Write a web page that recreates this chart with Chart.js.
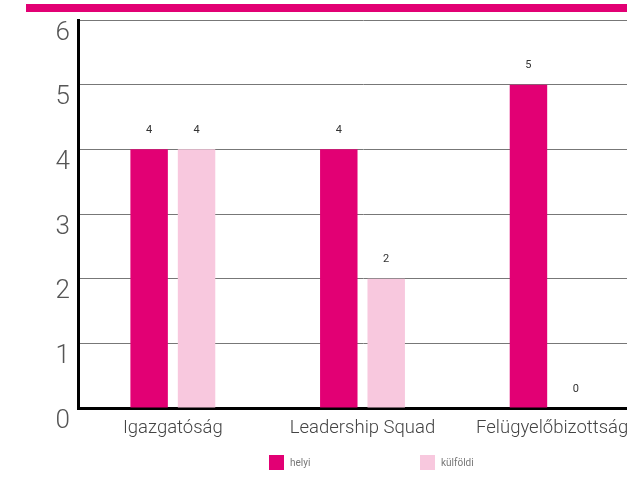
<!DOCTYPE html>
<html>
<head>
<meta charset="utf-8">
<script src="https://cdn.jsdelivr.net/npm/chart.js@4/dist/chart.umd.min.js"></script>
<style>
  html, body { margin: 0; padding: 0; width: 627px; height: 477px; overflow: hidden; background: #fff; }
  #topbar { position: absolute; left: 26px; top: 4px; width: 700px; height: 8px; background: #E20074; }
  #wrap { position: absolute; left: 0; top: 0; width: 660px; height: 477px; }
  #legend { position: absolute; top: 455px; left: 0; width: 627px; height: 16px; font-family: Roboto, sans-serif; font-size: 10px; color: #777; }
  .li { position: absolute; top: 0; height: 15px; display: flex; align-items: center; }
  .li span.box { display: inline-block; width: 15px; height: 15px; margin-right: 6px; }
</style>
</head>
<body>
<div id="topbar"></div>
<div id="wrap"><canvas id="c" width="660" height="477" style="width:660px;height:477px"></canvas></div>
<div id="legend"></div>
<script>
const categories = ["Igazgatóság", "Leadership Squad", "Felügyelőbizottság"];
const seriesNames = ["helyi", "külföldi"];
const helyiValues = [4, 4, 5];
const kulfoldiValues = [4, 2, 0];
const yTicks = [0, 1, 2, 3, 4, 5, 6];

const MAGENTA = "#E20074";
const PINK = "#F8C8DE";

const valueLabels = {
  id: "valueLabels",
  afterDatasetsDraw(chart) {
    const ctx = chart.ctx;
    ctx.save();
    ctx.font = "11px Roboto, sans-serif";
    ctx.fillStyle = "#333";
    ctx.textAlign = "center";
    ctx.textBaseline = "middle";
    chart.data.datasets.forEach((ds, i) => {
      const meta = chart.getDatasetMeta(i);
      meta.data.forEach((el, j) => {
        ctx.fillText(String(ds.data[j]), el.x, el.y - 19);
      });
    });
    ctx.restore();
  }
};

const htmlLegend = {
  id: "htmlLegend",
  afterUpdate(chart) {
    const box = document.getElementById("legend");
    box.innerHTML = "";
    const items = chart.options.plugins.legend.labels.generateLabels(chart);
    const lefts = [269, 420];
    items.forEach((it, i) => {
      const d = document.createElement("div");
      d.className = "li";
      d.style.left = lefts[i] + "px";
      const b = document.createElement("span");
      b.className = "box";
      b.style.background = it.fillStyle;
      const t = document.createElement("span");
      t.textContent = it.text;
      d.appendChild(b); d.appendChild(t);
      box.appendChild(d);
    });
  }
};

new Chart(document.getElementById("c"), {
  type: "bar",
  data: {
    labels: categories,
    datasets: [
      { label: seriesNames[0], data: helyiValues, backgroundColor: MAGENTA },
      { label: seriesNames[1], data: kulfoldiValues, backgroundColor: PINK }
    ]
  },
  options: {
    responsive: false,
    animation: false,
    devicePixelRatio: 1,
    layout: { padding: { top: 20, right: 13, left: 0, bottom: 0 } },
    datasets: { bar: { barPercentage: 0.79, categoryPercentage: 0.5 } },
    plugins: {
      legend: { display: false },
      tooltip: { enabled: false }
    },
    scales: {
      x: {
        grid: { display: false, drawTicks: false },
        border: { display: true, color: "#000", width: 3 },
        ticks: { color: "#444", font: { family: "Roboto", size: 18.5, weight: 300 }, padding: 9, maxRotation: 0, autoSkip: false },
        afterFit(s) { s.height = 69; s.paddingLeft = 0; s.paddingRight = 0; }
      },
      y: {
        min: 0, max: 6,
        afterBuildTicks(s) { s.ticks = yTicks.map(v => ({ value: v })); },
        grid: { color: "#777", lineWidth: 1, drawTicks: false },
        border: { display: true, color: "#000", width: 3 },
        ticks: { color: "#555", font: { family: "Roboto", size: 26, weight: 300 }, padding: 8, labelOffset: 13 },
        afterFit(s) { s.width = 78; s.paddingTop = 0; s.paddingBottom = 0; }
      }
    }
  },
  plugins: [valueLabels, htmlLegend]
});
</script>
</body>
</html>
